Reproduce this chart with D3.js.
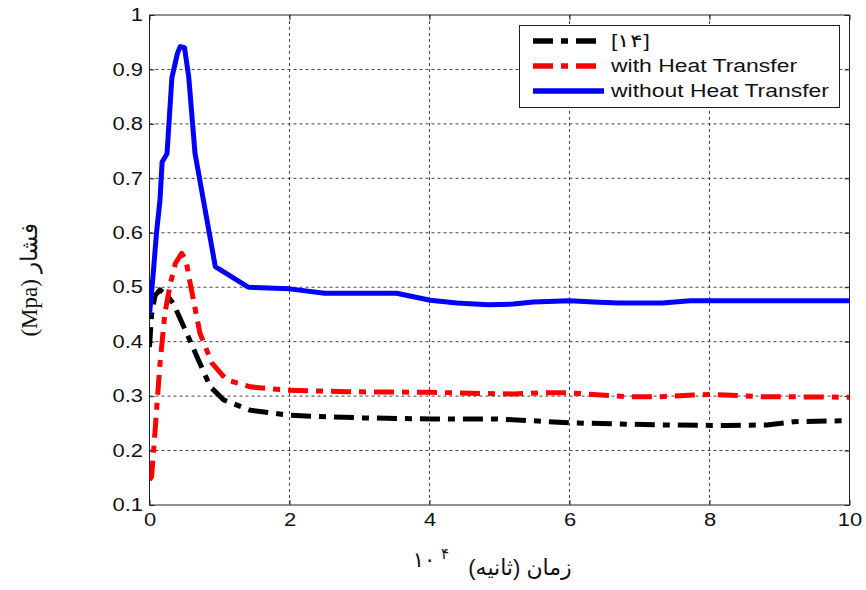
<!DOCTYPE html>
<html>
<head>
<meta charset="utf-8" />
<script src="https://d3js.org/d3.v7.min.js"></script>
<style>
body { margin: 0; background: #fff; }
.tick text { font-family: "Liberation Sans", Arial, sans-serif; font-size: 18px; fill: #111; }
.grid line { stroke: #444; stroke-width: 1; stroke-dasharray: 3,3; }
.legend text { font-family: "Liberation Sans", Arial, sans-serif; font-size: 17.5px; fill: #111; }
</style>
</head>
<body>
<script>
// values (time x 10^4 s, pressure MPa)
var tNoHeat = [0, 0.05, 0.1, 0.15, 0.18, 0.25, 0.32, 0.4, 0.44, 0.5, 0.56, 0.65, 0.77, 0.94, 1.41, 2.0, 2.5, 3.53, 4.01, 4.39, 4.84, 5.2, 5.48, 6.0, 6.34, 6.7, 7.33, 7.72, 10];
var pNoHeat = [0.45, 0.52, 0.6, 0.66, 0.73, 0.745, 0.885, 0.93, 0.942, 0.94, 0.887, 0.746, 0.66, 0.538, 0.5, 0.497, 0.489, 0.489, 0.476, 0.471, 0.468, 0.469, 0.473, 0.475, 0.473, 0.471, 0.471, 0.475, 0.475];

var tHeat = [0, 0.03, 0.08, 0.15, 0.22, 0.3, 0.37, 0.46, 0.52, 0.58, 0.72, 0.89, 1.1, 1.44, 1.96, 2.82, 4.01, 4.72, 5.2, 5.58, 6.0, 6.82, 7.3, 7.77, 8.06, 8.72, 10];
var pHeat = [0.146, 0.152, 0.237, 0.36, 0.452, 0.508, 0.544, 0.562, 0.55, 0.508, 0.416, 0.361, 0.33, 0.317, 0.311, 0.308, 0.307, 0.305, 0.304, 0.306, 0.306, 0.299, 0.299, 0.302, 0.303, 0.299, 0.298];

var tRef = [0, 0.03, 0.08, 0.15, 0.25, 0.34, 0.53, 0.7, 0.87, 1.06, 1.44, 1.99, 2.34, 3.05, 4.01, 4.96, 5.44, 6.0, 7.3, 8.25, 8.82, 9.2, 10];
var pRef = [0.39, 0.45, 0.485, 0.495, 0.485, 0.47, 0.416, 0.366, 0.317, 0.293, 0.274, 0.265, 0.263, 0.26, 0.258, 0.258, 0.255, 0.251, 0.247, 0.246, 0.247, 0.253, 0.255];

var xTicks = [0, 2, 4, 6, 8, 10];
var yTicks = [0.1, 0.2, 0.3, 0.4, 0.5, 0.6, 0.7, 0.8, 0.9, 1];
var seriesNames = ["[۱۴]", "with Heat Transfer", "without Heat Transfer"];

var W = 866, H = 590;
var x = d3.scaleLinear().domain([0, 10]).range([149.5, 849.5]);
var y = d3.scaleLinear().domain([0.1, 1]).range([505, 15]);

var svg = d3.select("body").append("svg")
    .attr("width", W)
    .attr("height", H);

// stretch text a bit wider, the original picture is scaled horizontally
function widen(sel, f) {
  sel.each(function() {
    var len = this.getComputedTextLength();
    d3.select(this).attr("textLength", len * f).attr("lengthAdjust", "spacingAndGlyphs");
  });
}

// grid
var grid = svg.append("g").attr("class", "grid");
grid.selectAll(".gx")
    .data(xTicks.slice(1, -1))
  .enter().append("line")
    .attr("x1", function(d) { return x(d); })
    .attr("x2", function(d) { return x(d); })
    .attr("y1", y(1))
    .attr("y2", y(0.1));
grid.selectAll(".gy")
    .data(yTicks.slice(1, -1))
  .enter().append("line")
    .attr("y1", function(d) { return y(d); })
    .attr("y2", function(d) { return y(d); })
    .attr("x1", x(0))
    .attr("x2", x(10));

// axes, ticks pointing inside
var fmtY = function(d) { return d == 1 ? "1" : d3.format(".1f")(d); };
var gx = svg.append("g")
    .attr("transform", "translate(0," + y(0.1) + ")")
    .call(d3.axisBottom(x).tickValues(xTicks).tickSize(-5).tickSizeOuter(0).tickPadding(8));
var gy = svg.append("g")
    .attr("transform", "translate(" + x(0) + ",0)")
    .call(d3.axisLeft(y).tickValues(yTicks).tickFormat(fmtY).tickSize(-5).tickSizeOuter(0).tickPadding(6.5));
svg.append("g")
    .attr("transform", "translate(0," + y(1) + ")")
    .call(d3.axisTop(x).tickValues(xTicks).tickSize(-5).tickSizeOuter(0).tickFormat(""));
svg.append("g")
    .attr("transform", "translate(" + x(10) + ",0)")
    .call(d3.axisRight(y).tickValues(yTicks).tickSize(-5).tickSizeOuter(0).tickFormat(""));
svg.selectAll(".domain").remove();
svg.selectAll(".tick line").attr("stroke", "#222");
widen(svg.selectAll(".tick text"), 1.22);

svg.append("rect")
    .attr("x", x(0))
    .attr("y", y(1))
    .attr("width", x(10) - x(0))
    .attr("height", y(0.1) - y(1))
    .attr("fill", "none")
    .attr("stroke", "#222")
    .attr("stroke-width", 1);

// lines
var line = d3.line()
    .x(function(d) { return x(d[0]); })
    .y(function(d) { return y(d[1]); });

var series = [
  { t: tRef, p: pRef, color: "#000", dash: "20,8,7,8" },
  { t: tHeat, p: pHeat, color: "#ff0000", dash: "20,8,7,8" },
  { t: tNoHeat, p: pNoHeat, color: "#0000ff", dash: null }
];

svg.append("defs").append("clipPath").attr("id", "clip")
  .append("rect")
    .attr("x", x(0))
    .attr("y", y(1))
    .attr("width", x(10) - x(0))
    .attr("height", y(0.1) - y(1));

svg.append("g").attr("clip-path", "url(#clip)")
  .selectAll("path")
    .data(series)
  .enter().append("path")
    .attr("d", function(s) { return line(d3.zip(s.t, s.p)); })
    .attr("fill", "none")
    .attr("stroke", function(s) { return s.color; })
    .attr("stroke-width", 5)
    .attr("stroke-linejoin", "round")
    .attr("stroke-dasharray", function(s) { return s.dash; });

// legend
var legend = svg.append("g").attr("class", "legend");
legend.append("rect")
    .attr("x", 519.5).attr("y", 25.5)
    .attr("width", 320).attr("height", 82)
    .attr("fill", "#fff")
    .attr("stroke", "#222");
var items = legend.selectAll(".item")
    .data(series)
  .enter().append("g")
    .attr("transform", function(d, i) { return "translate(0," + (41 + i * 25) + ")"; });
items.append("line")
    .attr("x1", 533).attr("x2", 604)
    .attr("stroke", function(s) { return s.color; })
    .attr("stroke-width", 5.5)
    .attr("stroke-dasharray", function(s) { return s.dash; });
items.append("text")
    .attr("x", 611)
    .attr("y", 6)
    .text(function(d, i) { return seriesNames[i]; });
widen(items.selectAll("text"), 1.31);

// axis titles
svg.append("text")
    .attr("transform", "translate(37,280) rotate(-90)")
    .attr("text-anchor", "middle")
    .style("font-family", "'Liberation Serif', 'Times New Roman', serif")
    .style("font-size", "23px")
    .attr("fill", "#111")
    .text("(Mpa) فشار");

svg.append("text")
    .attr("x", 520).attr("y", 575)
    .attr("direction", "rtl")
    .attr("text-anchor", "middle")
    .style("font-family", "'Liberation Sans', 'DejaVu Sans', sans-serif")
    .style("font-size", "22px")
    .attr("fill", "#111")
    .text("زمان (ثانیه)");
svg.append("text")
    .attr("x", 424).attr("y", 567)
    .attr("text-anchor", "middle")
    .style("font-family", "'DejaVu Sans', sans-serif")
    .style("font-size", "21px")
    .attr("fill", "#111")
    .text("۱۰");
svg.append("text")
    .attr("x", 445).attr("y", 559)
    .attr("text-anchor", "middle")
    .style("font-family", "'DejaVu Sans', sans-serif")
    .style("font-size", "15px")
    .attr("fill", "#111")
    .text("۴");
</script>
</body>
</html>
